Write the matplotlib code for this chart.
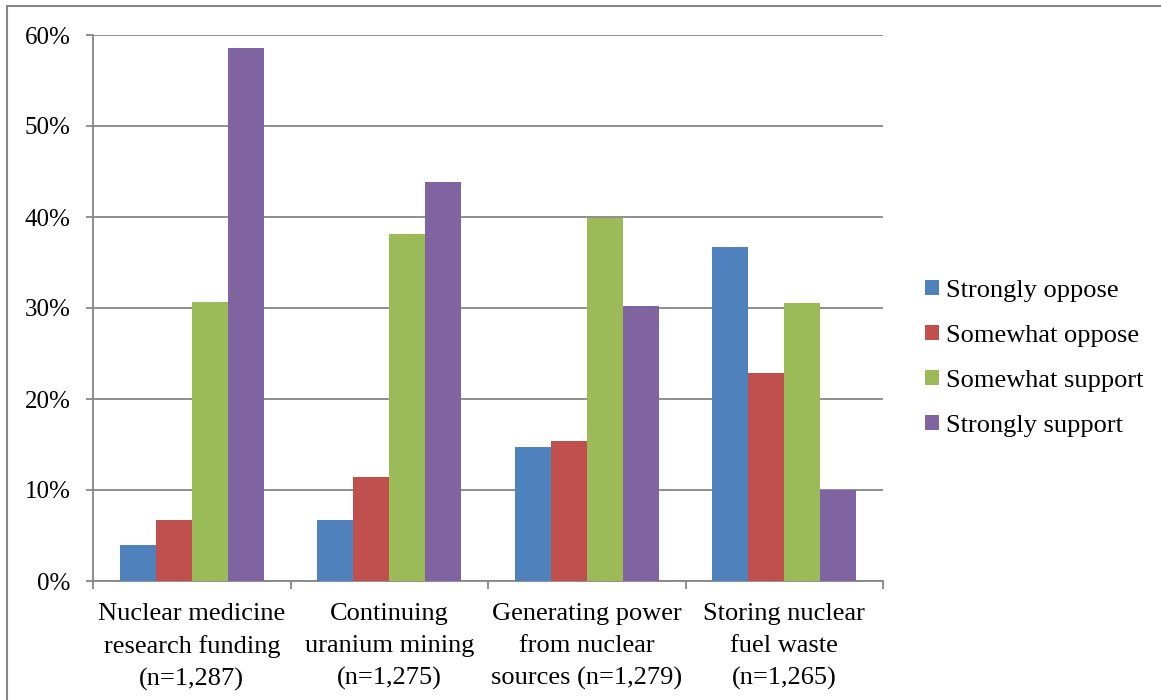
import matplotlib.pyplot as plt
import numpy as np
from matplotlib.patches import Rectangle
from matplotlib.ticker import PercentFormatter

# survey results, percent of respondents per item
categories = ["Nuclear medicine\nresearch funding\n(n=1,287)",
              "Continuing\nuranium mining\n(n=1,275)",
              "Generating power\nfrom nuclear\nsources (n=1,279)",
              "Storing nuclear\nfuel waste\n(n=1,265)"]
series_names = ["Strongly oppose", "Somewhat oppose", "Somewhat support", "Strongly support"]
strongly_oppose = [4.0, 6.7, 14.7, 36.7]
somewhat_oppose = [6.7, 11.4, 15.4, 22.9]
somewhat_support = [30.7, 38.1, 39.9, 30.5]
strongly_support = [58.6, 43.8, 30.2, 10.0]

colors = ["#4F81BD", "#C0504D", "#9BBB59", "#8064A2"]
grey = "#868686"

plt.rcParams['font.family'] = ['Liberation Serif', 'DejaVu Serif']

fig = plt.figure(figsize=(11.61, 7.0), dpi=100)
ax = fig.add_axes([0.0801, 0.17, 0.6805, 0.78])

all_series = [strongly_oppose, somewhat_oppose, somewhat_support, strongly_support]
x = np.arange(len(categories))
w = 1 / 5.5  # four bars plus a 150% gap
for i, vals in enumerate(all_series):
    ax.bar(x + (i - 1.5) * w, vals, width=w, color=colors[i],
           label=series_names[i], linewidth=0, zorder=3)

ax.set_xlim(-0.5, len(categories) - 0.5)
ax.set_ylim(0, 60)
ax.set_yticks(range(0, 61, 10))
ax.yaxis.set_major_formatter(PercentFormatter(decimals=0))
ax.set_xticks(np.arange(-0.5, len(categories), 1.0))
ax.set_xticklabels([])
ax.set_xticks(x, minor=True)
ax.set_xticklabels(categories, minor=True, fontsize=19, linespacing=1.56)
ax.tick_params(axis='x', which='minor', length=0, pad=16)
ax.tick_params(axis='x', which='major', length=6, width=1.3, color=grey, direction='out')
ax.tick_params(axis='y', length=5, width=1.3, color=grey, direction='out',
               labelsize=18, pad=11)

ax.grid(axis='y', color=grey, linewidth=1.3, zorder=0)
for side in ['top', 'right']:
    ax.spines[side].set_visible(False)
for side in ['left', 'bottom']:
    ax.spines[side].set_color(grey)
    ax.spines[side].set_linewidth(1.3)

fig.legend(loc='center left', bbox_to_anchor=(0.797, 0.488), frameon=False,
           fontsize=19, handlelength=0.5, handleheight=0.5, handletextpad=0.3,
           labelspacing=0.88, borderpad=0, borderaxespad=0)

# outer chart border
fig.patches.append(Rectangle((7 / 1161, -0.5), 2, 0.5 + 1 - 6 / 700,
                             transform=fig.transFigure, fill=False,
                             edgecolor=grey, linewidth=1.5))

fig.savefig("out.png", dpi=100)
